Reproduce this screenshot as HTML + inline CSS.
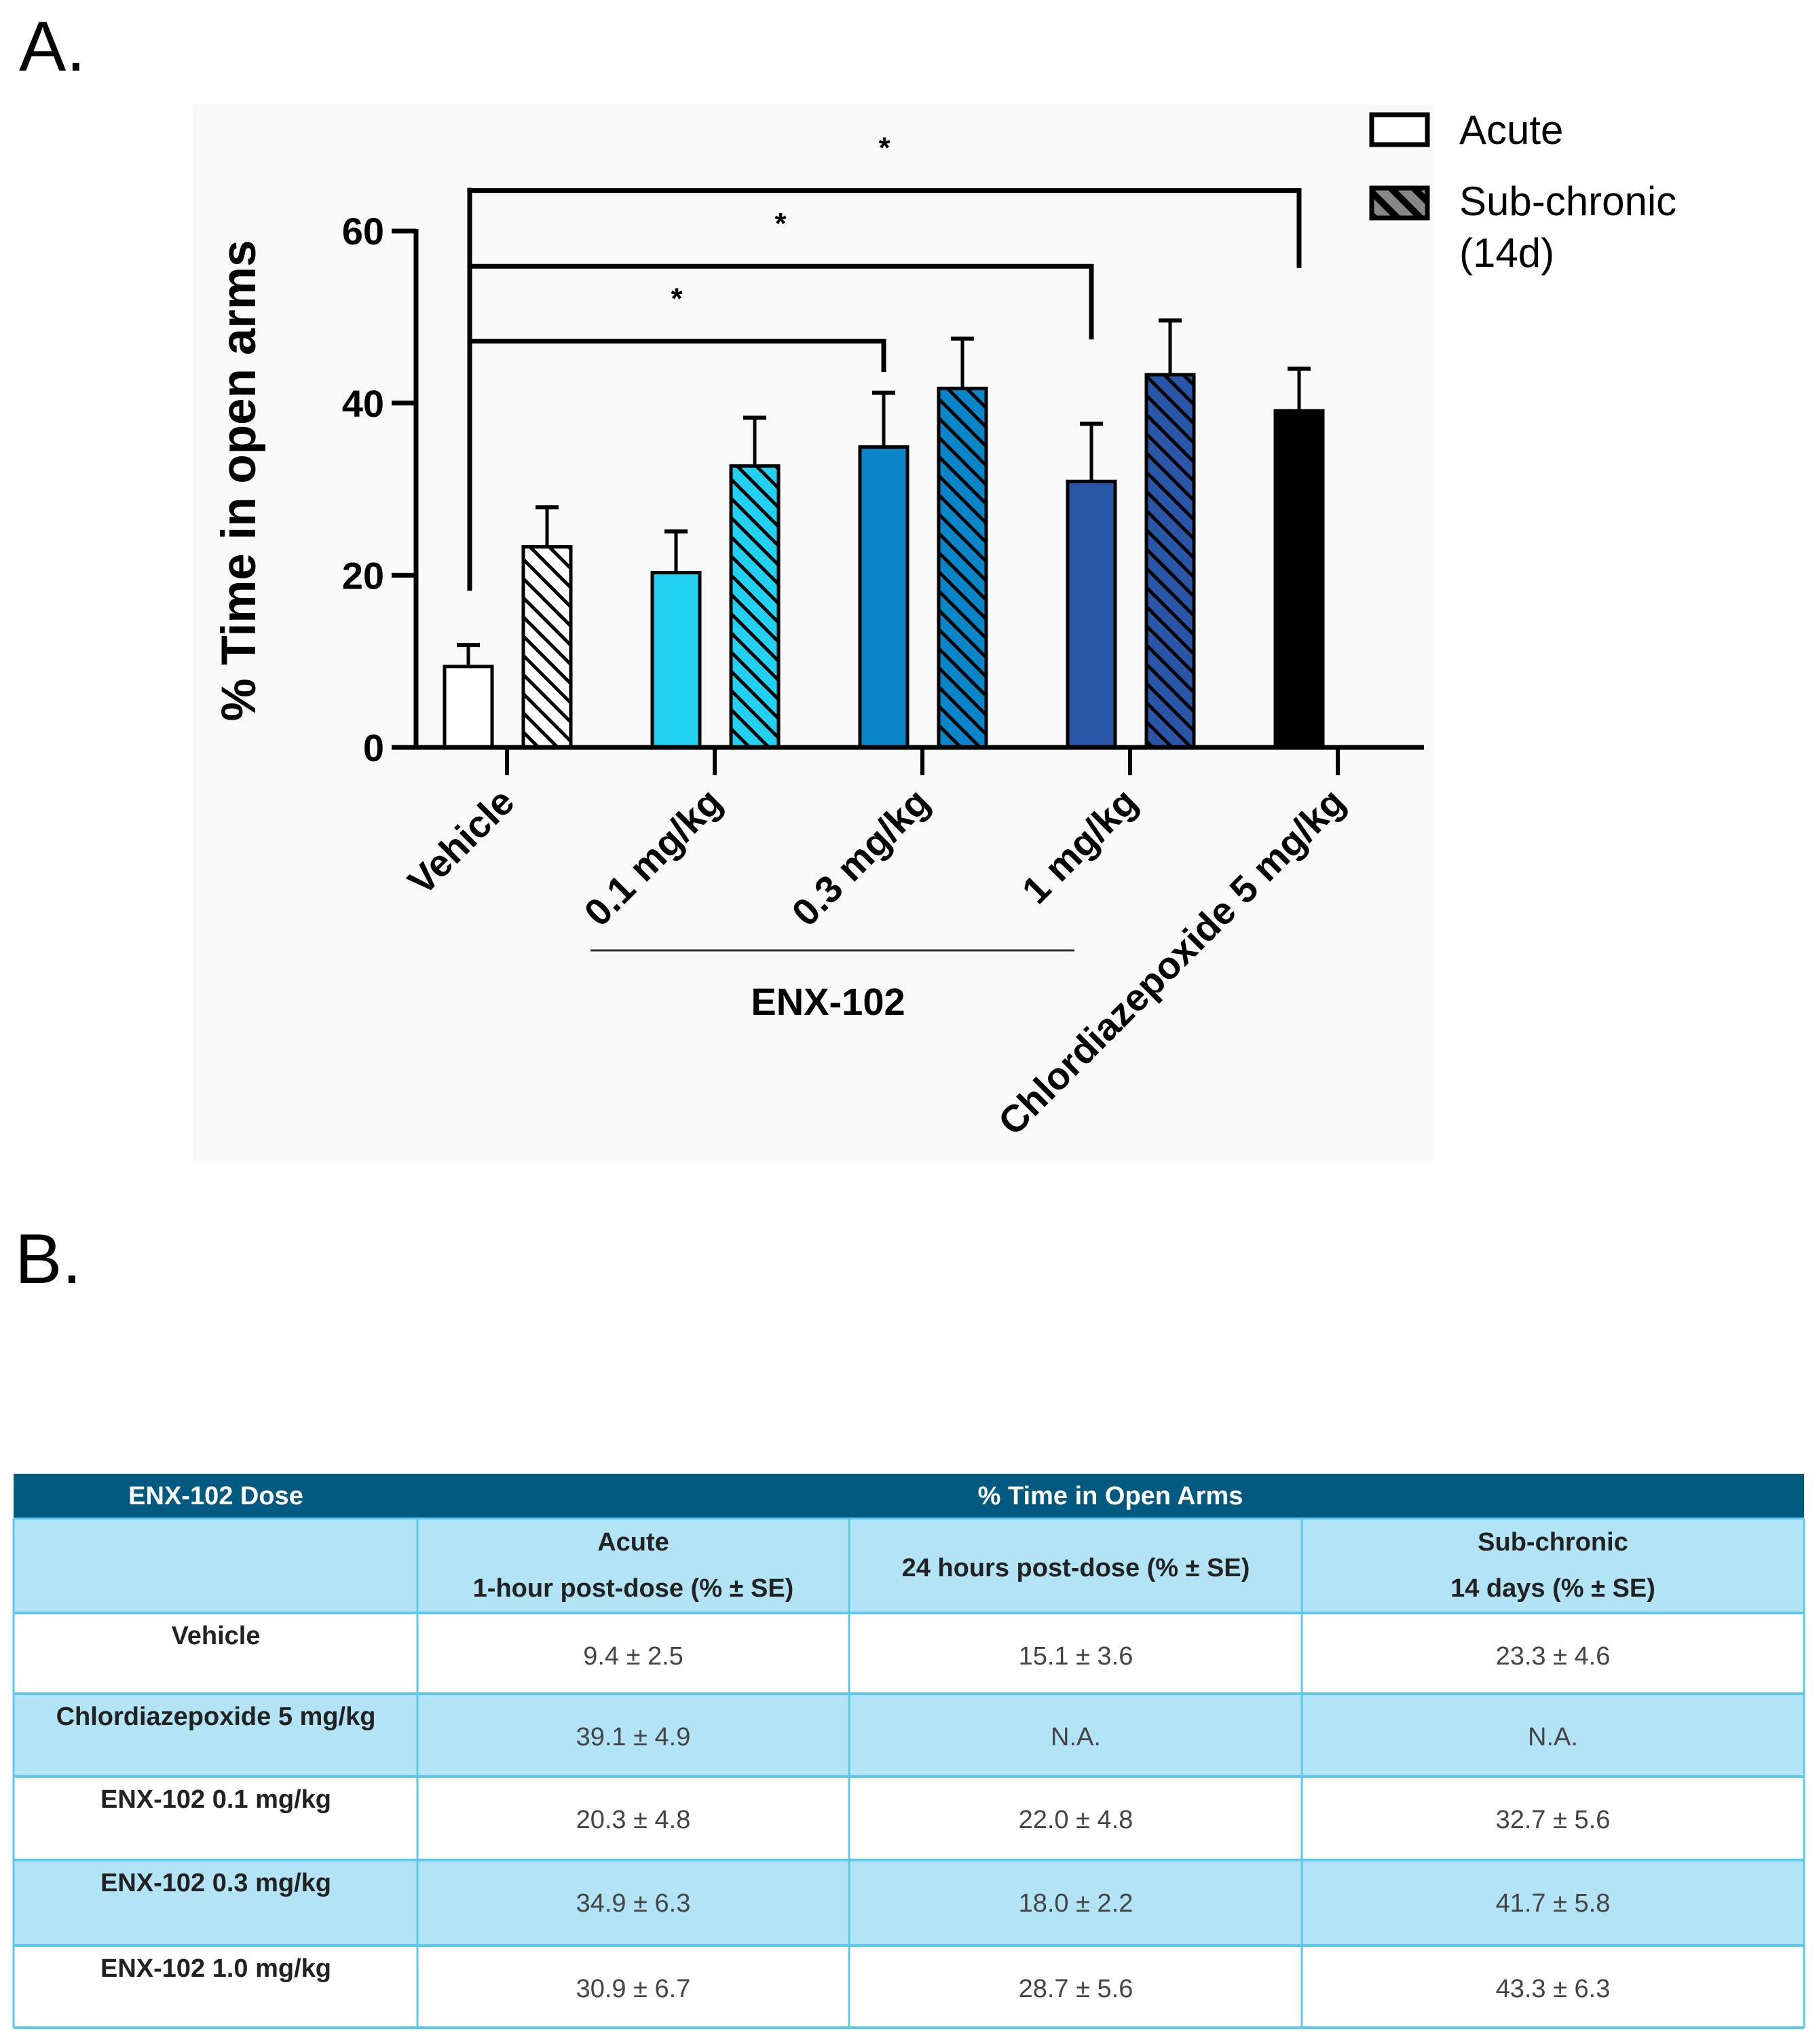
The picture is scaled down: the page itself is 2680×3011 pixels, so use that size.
<!DOCTYPE html>
<html><head><meta charset="utf-8">
<style>
html,body{margin:0;padding:0;background:#fff;}
svg{display:block;}
text{font-family:"Liberation Sans",sans-serif;}
</style></head>
<body>
<svg id="fig" width="2680" height="3011" viewBox="0 0 2680 3011" xmlns="http://www.w3.org/2000/svg">
<defs>
  <pattern id="h-white" patternUnits="userSpaceOnUse" width="20" height="20" patternTransform="rotate(-45)"><rect width="20" height="20" fill="#ffffff"/><rect x="0" y="0" width="5" height="20" fill="#000"/></pattern>
  <pattern id="h-cyan" patternUnits="userSpaceOnUse" width="20" height="20" patternTransform="rotate(-45)"><rect width="20" height="20" fill="#22d0f0"/><rect x="0" y="0" width="5" height="20" fill="#000"/></pattern>
  <pattern id="h-mid" patternUnits="userSpaceOnUse" width="20" height="20" patternTransform="rotate(-45)"><rect width="20" height="20" fill="#0a86c8"/><rect x="0" y="0" width="5" height="20" fill="#000"/></pattern>
  <pattern id="h-dark" patternUnits="userSpaceOnUse" width="20" height="20" patternTransform="rotate(-45)"><rect width="20" height="20" fill="#2a56a8"/><rect x="0" y="0" width="5" height="20" fill="#000"/></pattern>
  <pattern id="h-gray" patternUnits="userSpaceOnUse" width="24" height="24" patternTransform="rotate(-45)"><rect width="24" height="24" fill="#888"/><rect x="0" y="0" width="10" height="24" fill="#000"/></pattern>
</defs>
<rect x="284" y="154" width="1830" height="1556" fill="#f9f9f9"/>
<text x="28" y="104" font-size="104" fill="#000">A.</text>
<text x="22" y="1890" font-size="104" fill="#000">B.</text>
<g id="chart"></g>
<g>
  <g>
    <rect x="2021" y="169" width="82" height="44" fill="#fff" stroke="#000" stroke-width="7"/>
    <text x="2150" y="212" font-size="60" fill="#000">Acute</text>
  </g>
  <g>
    <rect x="2021" y="277" width="82" height="44" fill="url(#h-gray)" stroke="#000" stroke-width="7"/>
    <text x="2150" y="317" font-size="60" fill="#000">Sub-chronic</text>
    <text x="2150" y="393" font-size="60" fill="#000">(14d)</text>
  </g>
</g>
<g id="table"></g>
</svg>
<script>
const categories = ["Vehicle","0.1 mg/kg","0.3 mg/kg","1 mg/kg","Chlordiazepoxide 5 mg/kg"];
const acuteValues = [9.4, 20.3, 34.9, 30.9, 39.1];
const acuteErrors = [2.5, 4.8, 6.3, 6.7, 4.9];
const subValues = [23.3, 32.7, 41.7, 43.3, null];
const subErrors = [4.6, 5.6, 5.8, 6.3, null];
const yTicks = [0, 20, 40, 60];
const acuteFills = ["#ffffff","#22d0f0","#0a86c8","#2a56a8","#000000"];
const subFills = ["url(#h-white)","url(#h-cyan)","url(#h-mid)","url(#h-dark)",null];
const bracketLevels = [47.2, 55.9, 64.7];
const bracketTargets = [2, 3, 4];
const bracketDrops = [43.6, 47.4, 55.7];
const bracketLeftBottom = 18.2;

const NS = "http://www.w3.org/2000/svg";
const chart = document.getElementById('chart');
const y0 = 1101, ppu = 12.68;
function yScale(v){ return y0 - v*ppu; }
function groupX(i){ return 747 + i*306; }
function acuteCx(i){ return groupX(i)-57; }
function subCx(i){ return groupX(i)+59; }
function mk(tag, attrs, parent){ const e=document.createElementNS(NS,tag); for(const k in attrs) e.setAttribute(k,attrs[k]); (parent||chart).appendChild(e); return e; }
const BW = 70;

function bar(cx, v, err, fill, name){
  const g = mk('g',{});
  
  
  const top = yScale(v+err);
  mk('line',{x1:cx,x2:cx,y1:yScale(v),y2:top,stroke:'#000','stroke-width':5},g);
  mk('line',{x1:cx-17,x2:cx+17,y1:top,y2:top,stroke:'#000','stroke-width':6},g);
  mk('rect',{x:cx-BW/2,y:yScale(v),width:BW,height:y0-yScale(v),fill:fill,stroke:'#000','stroke-width':5},g);
}
categories.forEach((c,i)=>{
  bar(acuteCx(i), acuteValues[i], acuteErrors[i], acuteFills[i], 'bar-acute-'+i);
  if(subValues[i]!==null) bar(subCx(i), subValues[i], subErrors[i], subFills[i], 'bar-subchronic-'+i);
});
const yAxis = mk('line',{x1:613,x2:613,y1:yScale(60)-3,y2:y0+3,stroke:'#000','stroke-width':7});


const xAxis = mk('line',{x1:577,x2:2098,y1:y0,y2:y0,stroke:'#000','stroke-width':7});


yTicks.forEach(t=>{
  mk('line',{x1:577,x2:613,y1:yScale(t),y2:yScale(t),stroke:'#000','stroke-width':7});
  const tx = mk('text',{x:566,y:yScale(t)+20,'font-size':56,'font-weight':'bold','text-anchor':'end',fill:'#000'});
  tx.textContent = t;
  
  
});
categories.forEach((c,i)=>{
  const x = groupX(i);
  mk('line',{x1:x,x2:x,y1:y0,y2:1142,stroke:'#000','stroke-width':6});
  const ax = x+14, ay = 1185;
  const tx = mk('text',{x:ax,y:ay,'font-size':56,'font-weight':'bold','text-anchor':'end',fill:'#000',transform:`rotate(-45 ${ax} ${ay})`});
  tx.textContent = c;
  
  
});
const yt = mk('text',{x:376,y:708,'font-size':71,'font-weight':'bold','text-anchor':'middle',fill:'#000',transform:'rotate(-90 376 708)'});
yt.textContent = '% Time in open arms';


const enxLine = mk('line',{x1:870,x2:1583,y1:1400,y2:1400,stroke:'#333','stroke-width':3});


const enx = mk('text',{x:1220,y:1495,'font-size':56,'font-weight':'bold','text-anchor':'middle',fill:'#000'});
enx.textContent = 'ENX-102';


const lx = 692;
mk('line',{x1:lx,x2:lx,y1:yScale(bracketLevels[2])-4,y2:yScale(bracketLeftBottom),stroke:'#000','stroke-width':7});
bracketLevels.forEach((lv,k)=>{
  const rx = acuteCx(bracketTargets[k]);
  const g = mk('g',{});
  
  
  mk('polyline',{points:`${lx},${yScale(lv)} ${rx},${yScale(lv)} ${rx},${yScale(bracketDrops[k])}`,fill:'none',stroke:'#000','stroke-width':7},g);
  const sx = (lx+rx)/2, sy = yScale(lv)-78;
  const st = mk('text',{x:sx,y:sy+30,'font-size':44,'font-weight':'bold','text-anchor':'middle',fill:'#000'},g);
  st.textContent = '*';
});

const tbl = document.getElementById('table');
function tk(tag, attrs){ return mk(tag, attrs, tbl); }
const colX = [20, 615, 1251, 1918, 2658];
const rowY = [2376, 2495, 2617, 2740, 2866, 2987];
const rowLabels = ["Vehicle","Chlordiazepoxide 5 mg/kg","ENX-102 0.1 mg/kg","ENX-102 0.3 mg/kg","ENX-102 1.0 mg/kg"];
const col1 = ["9.4 ± 2.5","39.1 ± 4.9","20.3 ± 4.8","34.9 ± 6.3","30.9 ± 6.7"];
const col2 = ["15.1 ± 3.6","N.A.","22.0 ± 4.8","18.0 ± 2.2","28.7 ± 5.6"];
const col3 = ["23.3 ± 4.6","N.A.","32.7 ± 5.6","41.7 ± 5.8","43.3 ± 6.3"];
tk('rect',{x:20,y:2171,width:2638,height:66,fill:'#035a80'});
tk('rect',{x:20,y:2237,width:2638,height:139,fill:'#b3e4f5'});
for(let r=0;r<5;r++){
  tk('rect',{x:20,y:rowY[r],width:2638,height:rowY[r+1]-rowY[r],fill:(r%2? '#b3e4f5':'#ffffff')});
}
function t(x,y,s,opts){ const e=tk('text',Object.assign({x:x,y:y,'font-size':38,'text-anchor':'middle'},opts||{})); e.textContent=s; return e; }
const h1 = t(318,2216,'ENX-102 Dose',{fill:'#fff','font-weight':'bold'});


const h2 = t(1636,2216,'% Time in Open Arms',{fill:'#fff','font-weight':'bold'});


t(933,2284,'Acute',{fill:'#222','font-weight':'bold'});
t(933,2352,'1-hour post-dose (% ± SE)',{fill:'#222','font-weight':'bold'});
t(1585,2322,'24 hours post-dose (% ± SE)',{fill:'#222','font-weight':'bold'});
t(2288,2284,'Sub-chronic',{fill:'#222','font-weight':'bold'});
t(2288,2352,'14 days (% ± SE)',{fill:'#222','font-weight':'bold'});
for(let r=0;r<5;r++){
  const lbl = t(318,rowY[r]+46,rowLabels[r],{fill:'#222','font-weight':'bold'});
  
  
  const vy = rowY[r]+76;
  t(933,vy,col1[r],{fill:'#444'});
  t(1585,vy,col2[r],{fill:'#444'});
  t(2288,vy,col3[r],{fill:'#444'});
}
rowY.forEach(y=>tk('line',{x1:20,x2:2658,y1:y,y2:y,stroke:'#5cc8ec','stroke-width':4}));
tk('line',{x1:20,x2:2658,y1:2237,y2:2237,stroke:'#5cc8ec','stroke-width':3});
colX.slice(0,4).forEach((x,i)=>{ if(i>0) tk('line',{x1:x,x2:x,y1:2237,y2:2987,stroke:'#5cc8ec','stroke-width':3}); });
tk('line',{x1:20,x2:20,y1:2237,y2:2987,stroke:'#5cc8ec','stroke-width':3});
tk('line',{x1:2658,x2:2658,y1:2237,y2:2987,stroke:'#5cc8ec','stroke-width':3});
</script>
</body></html>
